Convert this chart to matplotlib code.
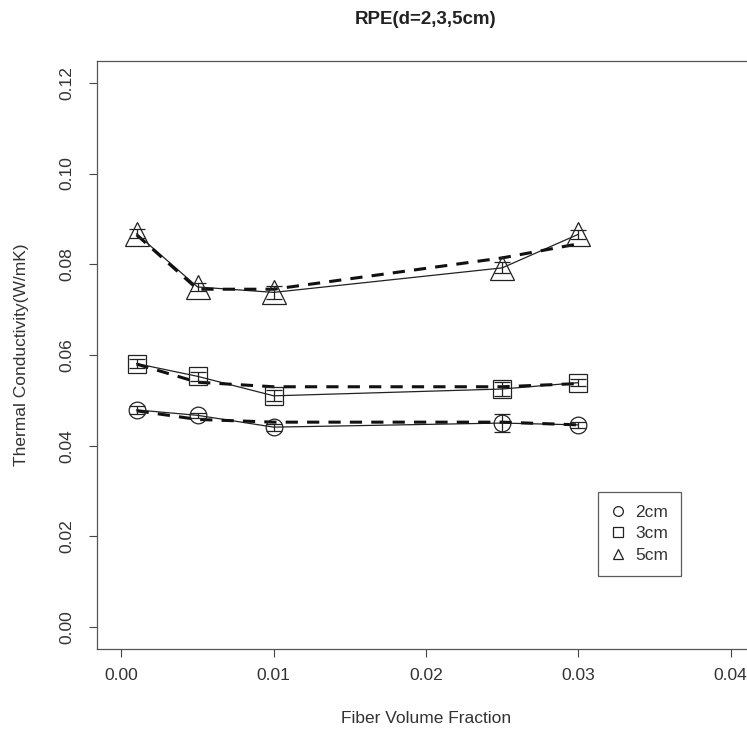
import matplotlib
matplotlib.use('Agg')
import matplotlib.pyplot as plt

# fiber volume fraction
fraction = [0.001, 0.005, 0.01, 0.025, 0.03]

# measured thermal conductivity (W/mK), solid lines
k_2cm = [0.0479, 0.0467, 0.0441, 0.0450, 0.0446]
k_3cm = [0.0581, 0.0553, 0.0510, 0.0525, 0.0539]
k_5cm = [0.0867, 0.0750, 0.0738, 0.0792, 0.0866]

# error bars
err_2cm = [0.0008, 0.0006, 0.0008, 0.0020, 0.0006]
err_3cm = [0.0010, 0.0010, 0.0012, 0.0015, 0.0008]
err_5cm = [0.0010, 0.0008, 0.0015, 0.0012, 0.0010]

# model values, dashed lines
m_2cm = [0.0477, 0.0458, 0.0452, 0.0452, 0.0446]
m_3cm = [0.0580, 0.0540, 0.0530, 0.0530, 0.0537]
m_5cm = [0.0865, 0.0745, 0.0745, 0.0814, 0.0845]

labels = ["2cm", "3cm", "5cm"]
markers = ["o", "s", "^"]
sizes = [12, 13, 17]

plt.rcParams['font.family'] = ['Liberation Sans', 'DejaVu Sans']

fig = plt.figure(figsize=(7.47, 7.43), dpi=100)
ax = fig.add_axes([97/747, (743-649)/743, (755-97)/747, (649-61)/743])

series = [(k_2cm, err_2cm, m_2cm), (k_3cm, err_3cm, m_3cm), (k_5cm, err_5cm, m_5cm)]

for (k, e, m), mk, ms in zip(series, markers, sizes):

    ax.plot(fraction, k, color="#222222", linewidth=0.9)

    ax.plot(fraction, m, color="#111111", linewidth=2.2,
            linestyle=(0, (4, 3)))

    ax.errorbar(fraction, k, yerr=e, fmt="none",
                ecolor="#222222", elinewidth=0.9,
                capsize=6, capthick=0.9)

    ax.plot(fraction, k, linestyle="none", marker=mk,
            markersize=ms, markerfacecolor="none",
            markeredgecolor="#222222", markeredgewidth=0.9)

ax.set_xlim(-0.0016, 0.0416)
ax.set_ylim(-0.0048, 0.1248)

ax.set_xticks([0.0, 0.01, 0.02, 0.03, 0.04])
ax.set_xticklabels(["0.00", "0.01", "0.02", "0.03", "0.04"])
ax.set_yticks([0.0, 0.02, 0.04, 0.06, 0.08, 0.10, 0.12])
ax.set_yticklabels(["0.00", "0.02", "0.04", "0.06", "0.08", "0.10", "0.12"],
                   rotation=90, va="center")

ax.tick_params(direction="out", length=6, width=0.8, labelsize=12.5,
               colors="#444444", labelcolor="#333333", pad=8)
ax.tick_params(axis="y", pad=10)

for side in ax.spines.values():
    side.set_color("#555555")
    side.set_linewidth(0.9)

ax.set_xlabel("Fiber Volume Fraction", fontsize=12.5, color="#333333",
              labelpad=20)
ax.set_ylabel("Thermal Conductivity(W/mK)", fontsize=12.5, color="#333333",
              labelpad=22)

fig.text(426/747, 1 - 19/743, "RPE(d=2,3,5cm)", fontsize=13.5,
         fontweight="bold", ha="center", va="center", color="#222222")

# legend
handles = [plt.Line2D([], [], linestyle="none", marker=mk, markersize=7,
                      markerfacecolor="none", markeredgecolor="#222222",
                      markeredgewidth=0.9)
           for mk in markers]

leg = ax.legend(handles, labels, loc="upper left",
                bbox_to_anchor=((598-97)/658, 1 - (492-61)/588),
                fontsize=12.5, frameon=True, fancybox=False,
                handlelength=0.8, handletextpad=0.6, labelspacing=0.35,
                borderpad=0.75, borderaxespad=0)
leg.get_frame().set_edgecolor("#333333")
leg.get_frame().set_linewidth(0.9)
for t in leg.get_texts():
    t.set_color("#333333")

fig.savefig("out.png", dpi=100)
